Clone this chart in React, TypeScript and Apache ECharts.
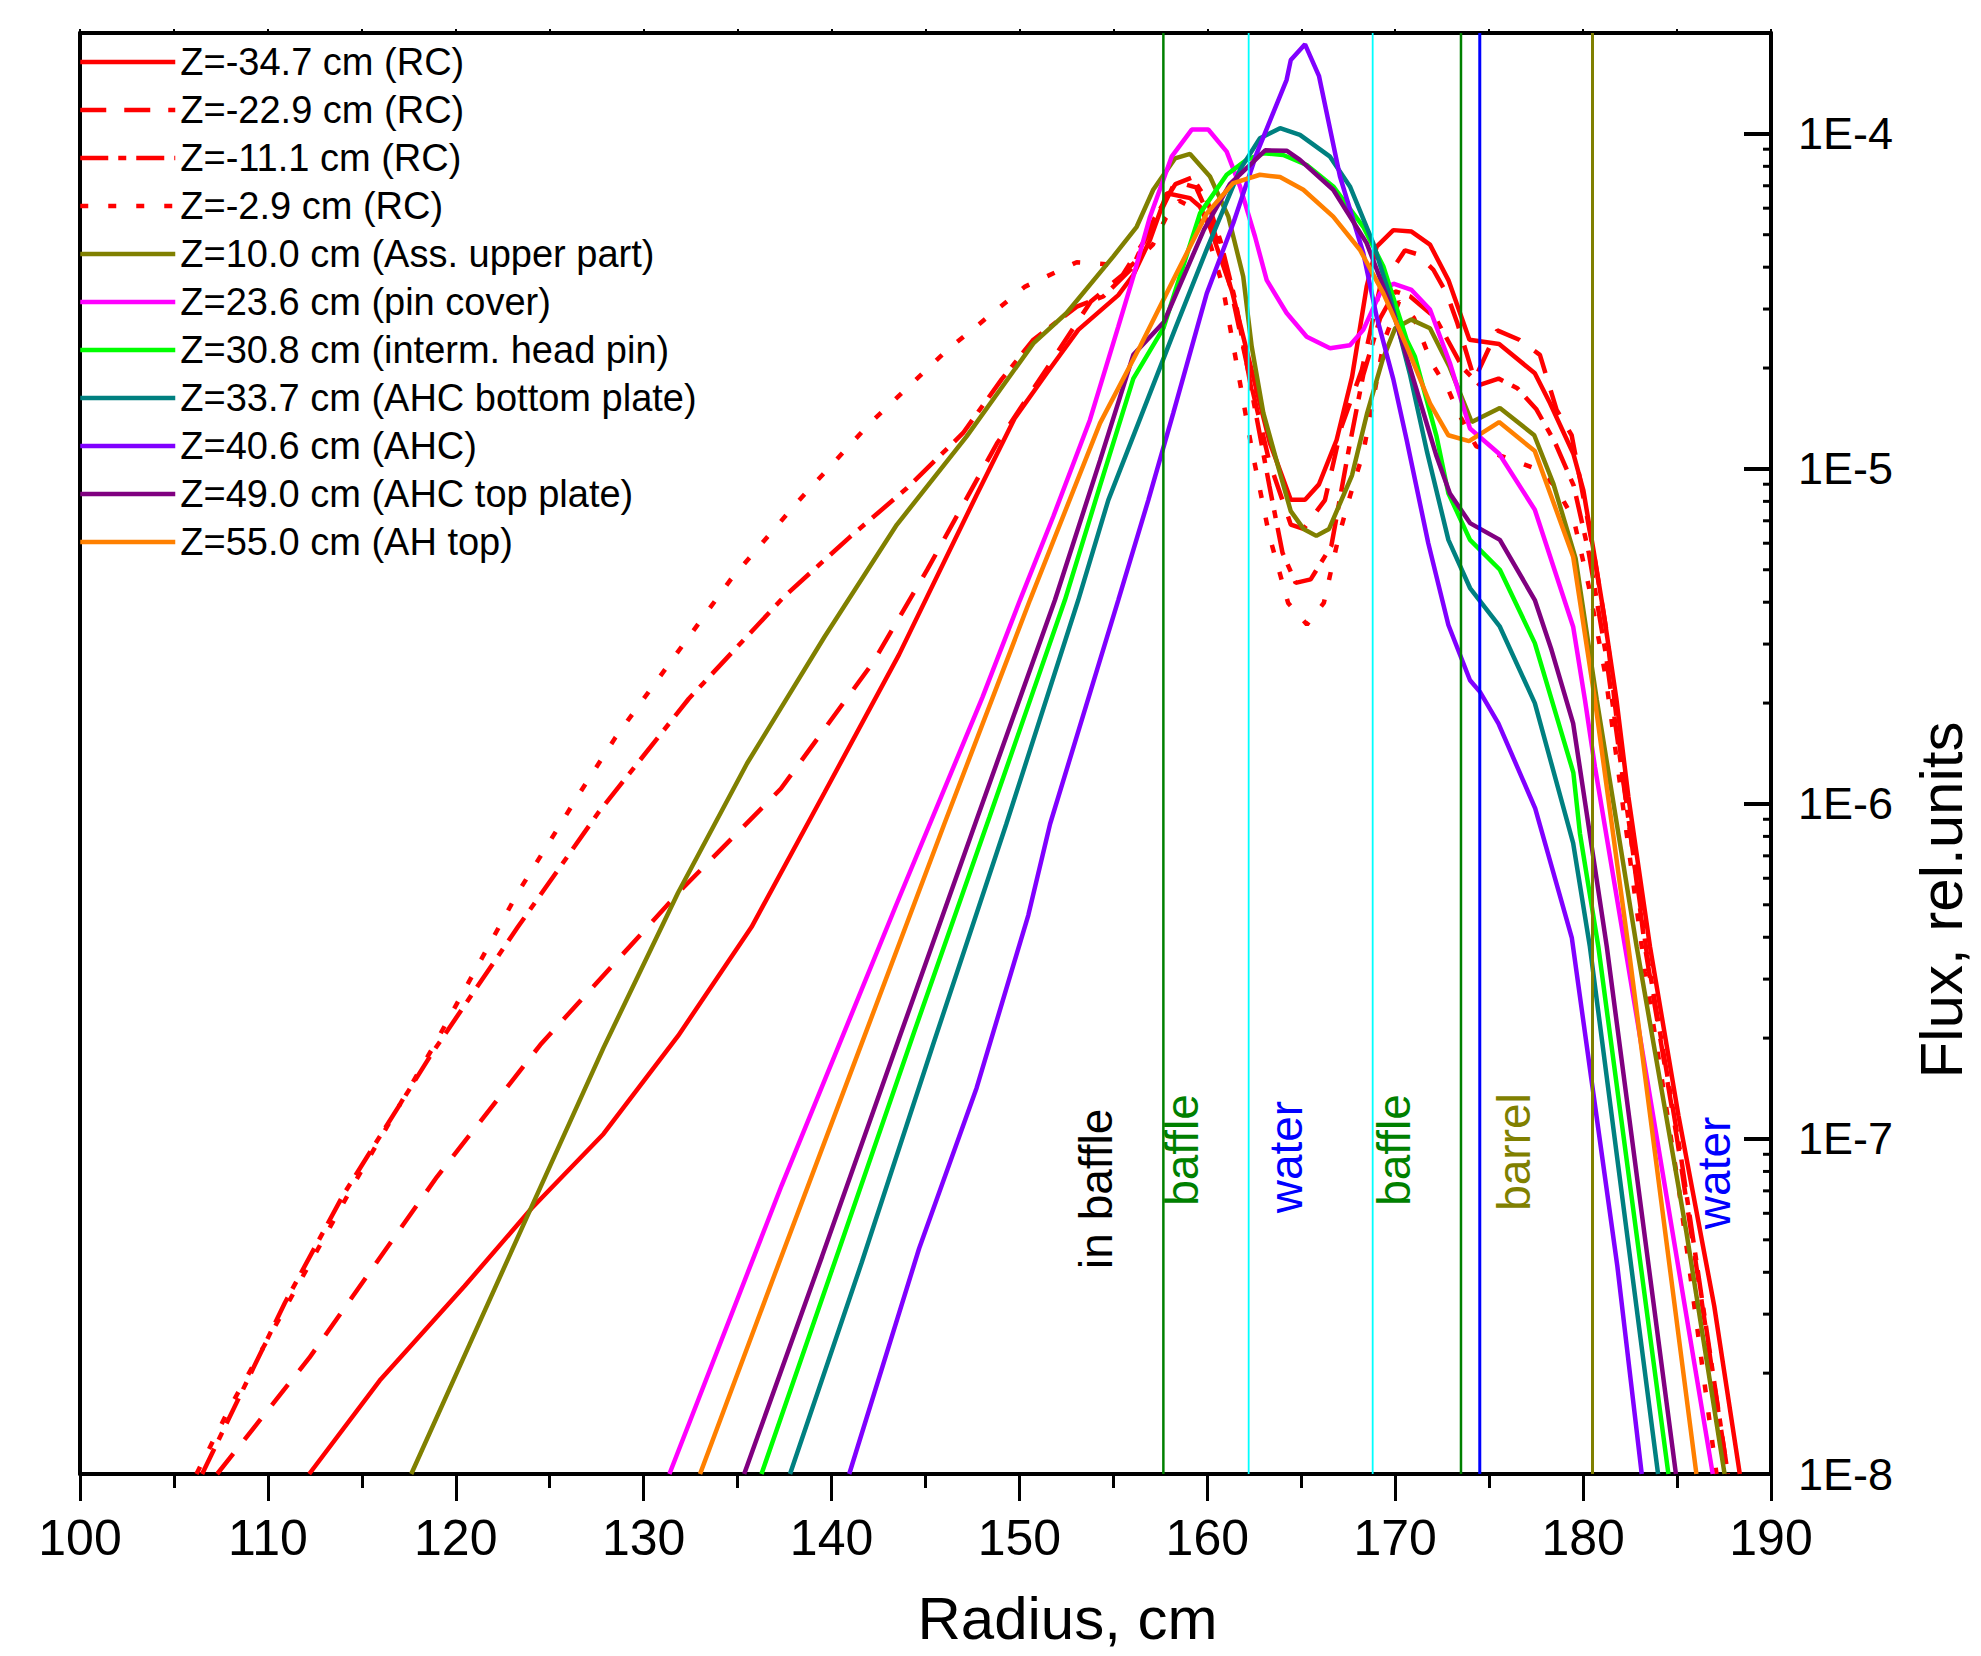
import React, { useEffect, useRef } from "react";
import * as echarts from "echarts";

const FONT = "'Liberation Sans', Arial, Helvetica, sans-serif";

// Axis ranges
const radiusMin = 100;
const radiusMax = 190;
const radiusStep = 10;
const fluxMin = 1e-8;
const fluxMax = 2e-4;
// Minor tick values of the logarithmic flux axis
const fluxMinorMantissas = [2, 3, 4, 5, 6, 7, 8, 9];
const fluxMinorDecades = [1e-8, 1e-7, 1e-6, 1e-5];

// Series names, colours and line styles (legend order)
const seriesNames = [
  "Z=-34.7 cm (RC)",
  "Z=-22.9 cm (RC)",
  "Z=-11.1 cm (RC)",
  "Z=-2.9 cm (RC)",
  "Z=10.0 cm (Ass. upper part)",
  "Z=23.6 cm (pin cover)",
  "Z=30.8 cm (interm. head pin)",
  "Z=33.7 cm (AHC bottom plate)",
  "Z=40.6 cm (AHC)",
  "Z=49.0 cm (AHC top plate)",
  "Z=55.0 cm (AH top)",
];
const seriesColors = [
  "#FF0000", "#FF0000", "#FF0000", "#FF0000",
  "#808000", "#FF00FF", "#00FF00", "#008080", "#8000FF", "#800080", "#FF8000",
];
const seriesDash: any[] = [
  "solid", [26, 18], [28, 10, 8, 10], [8, 20],
  "solid", "solid", "solid", "solid", "solid", "solid", "solid",
];

// [radius cm, flux rel.units]
const zM347: [number, number][] = [
  [112.2, 1.0e-8], [115.95, 1.9e-8], [120.47, 3.64e-8], [124.04, 6.21e-8], [127.86, 1.035e-7],
  [131.83, 2.03e-7], [135.74, 4.29e-7], [139.62, 1.08e-6], [143.59, 2.79e-6], [147.72, 8.36e-6],
  [149.76, 1.42e-5], [151.45, 1.93e-5], [153.13, 2.6e-5], [155.26, 3.3e-5], [156.06, 3.79e-5],
  [156.95, 4.83e-5], [157.84, 6.65e-5], [159.08, 6.43e-5], [159.6, 6.07e-5], [160.14, 5.26e-5],
  [161.3, 3.41e-5], [162.31, 2.02e-5], [163.32, 1.2e-5], [164.44, 8.09e-6], [165.2, 8.09e-6],
  [165.94, 8.99e-6], [166.88, 1.22e-5], [167.7, 1.88e-5], [168.48, 3.5e-5], [169.01, 4.61e-5],
  [169.9, 5.16e-5], [170.87, 5.11e-5], [171.85, 4.67e-5], [172.83, 3.66e-5], [173.95, 2.43e-5],
  [175.53, 2.36e-5], [177.43, 1.93e-5], [178.24, 1.57e-5], [179.48, 1.11e-5], [180.01, 8.65e-6],
  [180.55, 5.73e-6], [181.07, 3.79e-6], [181.78, 2.04e-6], [182.41, 1.05e-6], [183.56, 3.75e-7],
  [185.08, 1.17e-7], [186.98, 3.17e-8], [188.34, 1.0e-8],
];
const zM229: [number, number][] = [
  [107.3, 1.0e-8], [112.2, 2.22e-8], [119.0, 7.71e-8], [124.5, 1.91e-7], [132.1, 5.62e-7],
  [137.3, 1.11e-6], [142.2, 2.64e-6], [145.1, 5.01e-6], [148.8, 1.19e-5], [151.7, 2.09e-5],
  [153.8, 3.16e-5], [155.5, 3.8e-5], [157.1, 5.25e-5], [158.3, 7.21e-5], [159.4, 6.92e-5],
  [160.2, 5.5e-5], [161.2, 3.55e-5], [162.3, 1.82e-5], [163.3, 1.05e-5], [164.44, 6.82e-6],
  [165.12, 6.62e-6], [166.26, 8.07e-6], [167.15, 1.34e-5], [168.23, 1.98e-5], [169.19, 3.48e-5],
  [170.52, 4.49e-5], [171.2, 4.37e-5], [172.03, 3.93e-5], [172.74, 3.34e-5], [173.31, 2.72e-5],
  [174.22, 1.85e-5], [175.43, 2.59e-5], [176.6, 2.43e-5], [177.7, 2.19e-5], [178.59, 1.5e-5],
  [179.39, 1.26e-5], [180.01, 8.26e-6], [180.54, 5.73e-6], [181.26, 3.24e-6], [182.2, 1.12e-6],
  [183.3, 3.72e-7], [185.0, 1.0e-7], [187.7, 1.0e-8],
];
const zM111: [number, number][] = [
  [106.5, 1.0e-8], [110.9, 3.24e-8], [114.0, 6.79e-8], [118.7, 1.79e-7], [123.3, 4.29e-7],
  [127.6, 9.44e-7], [132.4, 2.06e-6], [137.5, 4.17e-6], [141.0, 6.28e-6], [144.0, 8.75e-6],
  [147.0, 1.28e-5], [149.05, 1.85e-5], [150.74, 2.43e-5], [153.05, 3.05e-5], [154.46, 3.27e-5],
  [156.0, 3.98e-5], [157.2, 5.62e-5], [158.3, 7.08e-5], [159.2, 7.41e-5], [160.0, 6.31e-5],
  [160.7, 4.79e-5], [161.5, 3.16e-5], [162.4, 1.66e-5], [163.3, 8.91e-6], [164.0, 5.62e-6],
  [164.7, 4.57e-6], [165.5, 4.68e-6], [166.6, 5.89e-6], [167.5, 1.12e-5], [168.3, 1.91e-5],
  [169.2, 2.82e-5], [170.0, 3.39e-5], [170.8, 3.27e-5], [172.15, 2.82e-5], [173.6, 2.0e-5],
  [174.5, 1.78e-5], [175.5, 1.86e-5], [176.5, 1.74e-5], [177.5, 1.51e-5], [178.5, 1.2e-5],
  [179.5, 8.91e-6], [180.3, 5.62e-6], [181.2, 2.82e-6], [183.4, 3.55e-7], [185.2, 8.91e-8],
  [187.7, 1.0e-8],
];
const zM29: [number, number][] = [
  [106.2, 1.0e-8], [108.0, 1.59e-8], [110.9, 3.11e-8], [114.7, 7.55e-8], [118.7, 1.84e-7],
  [123.3, 5.43e-7], [126.7, 1.1e-6], [128.5, 1.58e-6], [134.6, 4.65e-6], [138.2, 7.98e-6],
  [142.05, 1.37e-5], [146.1, 2.25e-5], [150.3, 3.5e-5], [153.05, 4.14e-5], [154.46, 4.09e-5],
  [155.9, 4.02e-5], [157.1, 4.67e-5], [157.8, 5.62e-5], [158.5, 6.31e-5], [159.2, 6.03e-5],
  [160.0, 5.01e-5], [160.8, 3.55e-5], [161.6, 2.0e-5], [162.4, 1.12e-5], [163.3, 6.31e-6],
  [164.3, 3.98e-6], [165.3, 3.43e-6], [166.2, 3.98e-6], [167.0, 6.31e-6], [167.6, 8.32e-6],
  [168.3, 1.12e-5], [168.8, 1.58e-5], [169.4, 2.4e-5], [170.2, 3.16e-5], [171.0, 2.82e-5],
  [171.94, 2.07e-5], [172.83, 1.72e-5], [173.36, 1.47e-5], [174.3, 1.17e-5], [175.5, 1.1e-5],
  [176.5, 1.05e-5], [177.5, 1.0e-5], [178.5, 8.91e-6], [179.5, 7.08e-6], [180.3, 4.47e-6],
  [181.2, 2.4e-6], [183.3, 3.16e-7], [185.1, 7.08e-8], [187.1, 1.0e-8],
];
const z100: [number, number][] = [
  [117.63, 1.0e-8], [120.68, 2.4e-8], [123.58, 5.51e-8], [127.86, 1.87e-7], [131.83, 5.43e-7],
  [135.5, 1.32e-6], [139.62, 3.15e-6], [143.47, 6.81e-6], [147.19, 1.25e-5], [150.74, 2.37e-5],
  [152.51, 2.92e-5], [155.0, 4.31e-5], [156.24, 5.28e-5], [157.12, 6.81e-5], [158.28, 8.45e-5],
  [159.08, 8.71e-5], [160.14, 7.46e-5], [161.12, 5.66e-5], [161.91, 3.75e-5], [162.36, 2.32e-5],
  [162.98, 1.47e-5], [163.87, 9.7e-6], [164.44, 7.48e-6], [165.12, 6.62e-6], [165.8, 6.31e-6],
  [166.48, 6.62e-6], [167.7, 9.57e-6], [168.51, 1.47e-5], [169.33, 2.12e-5], [170.0, 2.63e-5],
  [170.85, 2.79e-5], [171.85, 2.63e-5], [172.9, 2.01e-5], [174.07, 1.38e-5], [175.57, 1.52e-5],
  [177.4, 1.26e-5], [178.41, 9.06e-6], [179.6, 5.41e-6], [180.73, 2.04e-6], [182.85, 3.75e-7],
  [185.49, 5.3e-8], [187.53, 1.0e-8],
];
const z236: [number, number][] = [
  [131.37, 1.0e-8], [137.34, 7.26e-8], [143.45, 5.01e-7], [148.03, 2.08e-6], [150.03, 4.06e-6],
  [151.8, 7.21e-6], [153.75, 1.4e-5], [155.26, 2.66e-5], [156.06, 3.75e-5], [156.95, 5.66e-5],
  [158.1, 8.55e-5], [159.17, 1.03e-4], [160.05, 1.03e-4], [161.03, 8.85e-5], [161.74, 6.97e-5],
  [162.54, 4.93e-5], [163.16, 3.66e-5], [164.22, 2.92e-5], [165.29, 2.48e-5], [166.53, 2.29e-5],
  [167.59, 2.34e-5], [168.3, 2.6e-5], [169.19, 3.34e-5], [169.9, 3.57e-5], [170.87, 3.42e-5],
  [171.85, 2.99e-5], [172.91, 2.07e-5], [173.98, 1.32e-5], [175.53, 1.11e-5], [177.43, 7.55e-6],
  [179.47, 3.38e-6], [180.1, 2.04e-6], [180.63, 1.29e-6], [182.23, 3.75e-7], [186.9, 1.0e-8],
];
const z308: [number, number][] = [
  [136.27, 1.0e-8], [140.4, 4.68e-8], [144.4, 2.09e-7], [148.4, 9.12e-7], [152.42, 4.06e-6],
  [154.29, 8.91e-6], [156.06, 1.86e-5], [157.66, 2.63e-5], [159.61, 5.79e-5], [161.03, 7.55e-5],
  [162.09, 8.36e-5], [162.98, 8.75e-5], [164.04, 8.65e-5], [165.29, 8.07e-5], [166.7, 6.97e-5],
  [168.3, 5.28e-5], [169.37, 4.02e-5], [170.61, 2.43e-5], [171.05, 2.16e-5], [172.2, 1.25e-5],
  [172.83, 8.45e-6], [173.98, 6.14e-6], [175.57, 5.0e-6], [177.43, 3.02e-6], [179.48, 1.24e-6],
  [179.83, 8.17e-7], [180.81, 3.75e-7], [184.54, 1.0e-8],
];
const z337: [number, number][] = [
  [137.79, 1.0e-8], [141.6, 4.27e-8], [145.4, 1.91e-7], [149.3, 8.71e-7], [153.13, 4.06e-6],
  [154.73, 8.07e-6], [156.5, 1.45e-5], [158.3, 2.63e-5], [160.0, 4.57e-5], [161.74, 7.82e-5],
  [162.8, 9.7e-5], [163.87, 1.04e-4], [164.93, 9.93e-5], [166.53, 8.55e-5], [167.59, 6.97e-5],
  [168.83, 4.72e-5], [169.72, 3.27e-5], [170.79, 1.91e-5], [171.7, 1.12e-5], [172.83, 6.14e-6],
  [173.98, 4.41e-6], [175.57, 3.38e-6], [177.43, 2.0e-6], [179.47, 7.64e-7], [180.36, 3.75e-7],
  [183.99, 1.0e-8],
];
const z406: [number, number][] = [
  [140.94, 1.0e-8], [144.66, 4.71e-8], [147.72, 1.42e-7], [150.47, 4.65e-7], [151.63, 8.71e-7],
  [155.26, 4.06e-6], [156.86, 8.07e-6], [158.19, 1.47e-5], [159.97, 3.34e-5], [161.38, 5.41e-5],
  [162.63, 8.75e-5], [164.22, 1.45e-4], [164.44, 1.66e-4], [165.2, 1.85e-4], [165.94, 1.49e-4],
  [167.06, 7.46e-5], [168.3, 4.41e-5], [169.01, 2.85e-5], [169.9, 1.85e-5], [170.61, 1.22e-5],
  [171.76, 6.0e-6], [172.83, 3.42e-6], [173.98, 2.34e-6], [174.51, 2.16e-6], [175.49, 1.74e-6],
  [177.45, 9.7e-7], [179.4, 3.98e-7], [180.46, 1.48e-7], [181.82, 4.18e-8], [183.12, 1.0e-8],
];
const z490: [number, number][] = [
  [135.35, 1.0e-8], [139.5, 4.47e-8], [143.6, 2.0e-7], [147.7, 8.91e-7], [151.89, 4.06e-6],
  [154.29, 1.06e-5], [156.06, 2.19e-5], [157.7, 2.75e-5], [159.82, 5.18e-5], [161.2, 7.08e-5],
  [163.08, 8.93e-5], [164.22, 8.91e-5], [164.93, 8.36e-5], [166.7, 6.81e-5], [168.48, 4.72e-5],
  [169.9, 2.92e-5], [171.14, 1.72e-5], [172.2, 1.09e-5], [172.91, 8.45e-6], [173.98, 6.89e-6],
  [175.57, 6.14e-6], [177.43, 4.06e-6], [178.32, 2.88e-6], [179.47, 1.74e-6], [181.26, 3.75e-7],
  [184.94, 1.0e-8],
];
const z550: [number, number][] = [
  [133.0, 1.0e-8], [137.0, 3.98e-8], [141.5, 1.86e-7], [146.0, 8.71e-7], [150.56, 4.06e-6],
  [154.29, 1.37e-5], [156.42, 2.32e-5], [158.37, 3.84e-5], [159.97, 5.79e-5], [161.38, 7.13e-5],
  [162.8, 7.55e-5], [163.87, 7.43e-5], [165.11, 6.81e-5], [166.7, 5.66e-5], [168.12, 4.51e-5],
  [169.37, 3.34e-5], [170.61, 2.32e-5], [171.85, 1.57e-5], [172.83, 1.26e-5], [173.93, 1.21e-5],
  [175.53, 1.38e-5], [177.43, 1.13e-5], [179.47, 5.47e-6], [180.63, 2.04e-6], [182.41, 3.75e-7],
  [186.03, 1.0e-8],
];
const seriesData = [zM347, zM229, zM111, zM29, z100, z236, z308, z337, z406, z490, z550];

// Vertical boundary lines (radius, cm)
const boundaryRadius = [157.66, 162.2, 168.8, 173.5, 174.5, 180.5];
const boundaryColors = ["#008000", "#00FFFF", "#00FFFF", "#008000", "#0000FF", "#808000"];
const boundaryWidths = [2.5, 1.8, 1.8, 2.5, 3, 3];

// Region annotations (rotated texts)
const regionTexts = ["in baffle", "baffle", "water", "baffle", "barrel", "water"];
const regionRadius = [154.07, 158.65, 164.19, 169.94, 176.32, 186.97];
const regionFlux = [7.1e-8, 9.27e-8, 8.83e-8, 9.27e-8, 9.14e-8, 7.92e-8];
const regionColors = ["#000000", "#008000", "#0000FF", "#008000", "#808000", "#0000FF"];

function fluxLabel(v: number): string {
  const e = Math.round(Math.log10(v));
  if (Math.abs(v / Math.pow(10, e) - 1) > 1e-6) return "";
  return "1E" + e;
}

export default function App() {
  const ref = useRef<HTMLDivElement>(null);
  useEffect(() => {
    if (!ref.current) return;
    const chart = echarts.init(ref.current, undefined, { renderer: "svg" });

    const curveSeries = seriesNames.map((name, i) => ({
      name,
      type: "line",
      data: seriesData[i],
      xAxisIndex: 0,
      yAxisIndex: 0,
      symbol: "none",
      showSymbol: false,
      smooth: false,
      z: 2,
      lineStyle: { color: seriesColors[i], width: 4.5, type: seriesDash[i] },
      itemStyle: { color: seriesColors[i] },
      emphasis: { disabled: true },
    }));

    const boundarySeries = boundaryRadius.map((r, i) => ({
      name: "boundary-" + i,
      type: "line",
      data: [[r, fluxMin], [r, fluxMax]],
      xAxisIndex: 0,
      yAxisIndex: 0,
      symbol: "none",
      silent: true,
      z: 3,
      lineStyle: { color: boundaryColors[i], width: boundaryWidths[i] },
      emphasis: { disabled: true },
    }));

    const labelSeries = {
      name: "regions",
      type: "custom",
      xAxisIndex: 0,
      yAxisIndex: 0,
      silent: true,
      z: 4,
      data: regionRadius.map((r, i) => [r, regionFlux[i]]),
      renderItem: (params: any, api: any) => {
        const i = params.dataIndex;
        const p = api.coord([api.value(0), api.value(1)]);
        return {
          type: "text",
          x: p[0],
          y: p[1],
          rotation: Math.PI / 2,
          style: {
            text: regionTexts[i],
            fill: regionColors[i],
            fontSize: 46,
            fontFamily: FONT,
            align: "center",
            verticalAlign: "middle",
          },
        };
      },
    };

    // Small minor ticks of the logarithmic axis on the right frame
    const minorTickValues: number[][] = [];
    fluxMinorDecades.forEach((d) =>
      fluxMinorMantissas.forEach((m) => minorTickValues.push([radiusMax, m * d]))
    );
    const minorTickSeries = {
      name: "minor-ticks",
      type: "custom",
      xAxisIndex: 0,
      yAxisIndex: 0,
      silent: true,
      clip: false,
      z: 5,
      data: minorTickValues,
      renderItem: (_params: any, api: any) => {
        const p = api.coord([api.value(0), api.value(1)]);
        return {
          type: "line",
          shape: { x1: p[0] - 8, y1: p[1], x2: p[0], y2: p[1] },
          style: { stroke: "#000", lineWidth: 3 },
        };
      },
    };

    const option: any = {
      animation: false,
      backgroundColor: "#ffffff",
      textStyle: { fontFamily: FONT },
      grid: {
        left: 80,
        right: 210,
        top: 33,
        bottom: 182,
        containLabel: false,
        outerBoundsMode: "none",
      },
      legend: {
        data: seriesNames,
        orient: "vertical",
        left: 78,
        top: 43,
        padding: 0,
        itemWidth: 95,
        itemHeight: 14,
        itemGap: 10,
        selectedMode: false,
        itemStyle: { opacity: 0 },
        lineStyle: { width: 4.5 },
        textStyle: { fontSize: 38, color: "#000", fontFamily: FONT, lineHeight: 38 },
      },
      xAxis: [
        {
          type: "value",
          min: radiusMin,
          max: radiusMax,
          interval: radiusStep,
          position: "bottom",
          axisLine: { show: true, onZero: false, lineStyle: { color: "#000", width: 4 } },
          axisTick: { show: true, inside: false, length: 27, lineStyle: { color: "#000", width: 3 } },
          minorTick: { show: true, splitNumber: 2, length: 14, lineStyle: { color: "#000", width: 3 } },
          splitLine: { show: false },
          minorSplitLine: { show: false },
          axisLabel: { fontSize: 50, color: "#000", margin: 39, fontFamily: FONT },
          name: "Radius, cm",
          nameLocation: "middle",
          nameGap: 114,
          nameTextStyle: { fontSize: 60, color: "#000", fontFamily: FONT, padding: [0, 0, 0, 284] },
        },
        {
          type: "value",
          min: radiusMin,
          max: radiusMax,
          interval: radiusStep / 2,
          position: "top",
          axisLine: { show: true, onZero: false, lineStyle: { color: "#000", width: 4 } },
          axisTick: { show: true, inside: false, length: 4, lineStyle: { color: "#000", width: 2 } },
          axisLabel: { show: false },
          splitLine: { show: false },
        },
      ],
      yAxis: [
        {
          type: "log",
          logBase: 10,
          min: fluxMin,
          max: fluxMax,
          position: "right",
          axisLine: { show: true, onZero: false, lineStyle: { color: "#000", width: 4 } },
          axisTick: { show: true, inside: true, length: 27, lineStyle: { color: "#000", width: 4 } },
          axisLabel: { formatter: fluxLabel, fontSize: 45, color: "#000", margin: 27, fontFamily: FONT },
          splitLine: { show: false },
          name: "Flux, rel.units",
          nameLocation: "middle",
          nameGap: 140,
          nameTextStyle: { fontSize: 60, color: "#000", fontFamily: FONT, padding: [0, 293, 0, 0] },
        },
        {
          type: "log",
          logBase: 10,
          min: fluxMin,
          max: fluxMax,
          position: "left",
          axisLine: { show: true, onZero: false, lineStyle: { color: "#000", width: 4 } },
          axisTick: { show: false },
          axisLabel: { show: false },
          splitLine: { show: false },
        },
      ],
      series: [...curveSeries, ...boundarySeries, labelSeries, minorTickSeries],
    };

    chart.setOption(option);
    return () => chart.dispose();
  }, []);

  return (
    <div
      ref={ref}
      style={{ position: "fixed", left: 0, top: 0, width: 1981, height: 1656, background: "#fff" }}
    />
  );
}
